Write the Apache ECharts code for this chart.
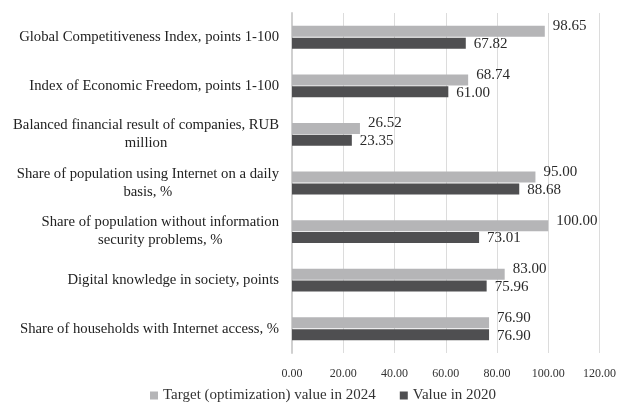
<!DOCTYPE html>
<html>
<head>
<meta charset="utf-8">
<script src="https://cdn.jsdelivr.net/npm/echarts@6/dist/echarts.min.js"></script>
<style>
  html, body { margin: 0; padding: 0; background: #fff; }
  #main { width: 619px; height: 408px; }
</style>
</head>
<body>
<div id="main"></div>
<script>
var categories = [
  'Global Competitiveness Index, points 1-100',
  'Index of Economic Freedom, points 1-100',
  'Balanced financial result of companies, RUB\nmillion',
  'Share of population using Internet on a daily\nbasis, %',
  'Share of population without information\nsecurity problems, %',
  'Digital knowledge in society, points',
  'Share of households with Internet access, %'
];
var target2024 = [98.65, 68.74, 26.52, 95.00, 100.00, 83.00, 76.90];
var value2020 = [67.82, 61.00, 23.35, 88.68, 73.01, 75.96, 76.90];

var font = '"Times New Roman", "Liberation Serif", serif';
var chartDom = document.getElementById('main');
var myChart = echarts.init(chartDom);

var option = {
  animation: false,
  textStyle: { fontFamily: font },
  legend: {
    bottom: 0,
    left: 145,
    itemWidth: 8,
    itemHeight: 8,
    itemGap: 24,
    icon: 'rect',
    textStyle: { fontFamily: font, fontSize: 15, color: '#333' },
    data: ['Target (optimization) value in 2024', 'Value in 2020']
  },
  grid: { left: 292, right: 16, top: 13, bottom: 55 },
  xAxis: {
    type: 'value',
    min: 0,
    max: 120,
    interval: 20,
    axisLine: { show: false },
    axisTick: { show: false },
    axisLabel: {
      fontFamily: font, fontSize: 12, color: '#333', margin: 15,
      formatter: function (v) { return v.toFixed(2); }
    },
    splitLine: { lineStyle: { color: '#dcdcdc', width: 1 } }
  },
  yAxis: {
    type: 'category',
    inverse: true,
    data: categories,
    axisLine: { lineStyle: { color: '#d0d0d0', width: 2 } },
    axisTick: { show: false },
    axisLabel: {
      margin: 13,
      fontFamily: font, fontSize: 14.7, color: '#222', lineHeight: 18,
      formatter: function (v) {
        return v.split('\n').map(function (s) { return '{c|' + s + '}'; }).join('\n');
      },
      rich: { c: { align: 'center', fontFamily: font, fontSize: 14.7, color: '#222', lineHeight: 18 } }
    }
  },
  series: [
    {
      name: 'Target (optimization) value in 2024',
      type: 'bar',
      data: target2024,
      barWidth: 11,
      barGap: '8%',
      itemStyle: { color: '#b5b5b7' },
      label: {
        show: true, position: 'right', distance: 8, offset: [0, -5],
        fontFamily: font, fontSize: 15, color: '#2a2a2a',
        formatter: function (p) { return p.value.toFixed(2); }
      }
    },
    {
      name: 'Value in 2020',
      type: 'bar',
      data: value2020,
      barWidth: 11,
      itemStyle: { color: '#4f4f51' },
      label: {
        show: true, position: 'right', distance: 8, offset: [0, 1],
        fontFamily: font, fontSize: 15, color: '#2a2a2a',
        formatter: function (p) { return p.value.toFixed(2); }
      }
    }
  ]
};

option && myChart.setOption(option);
</script>
</body>
</html>
